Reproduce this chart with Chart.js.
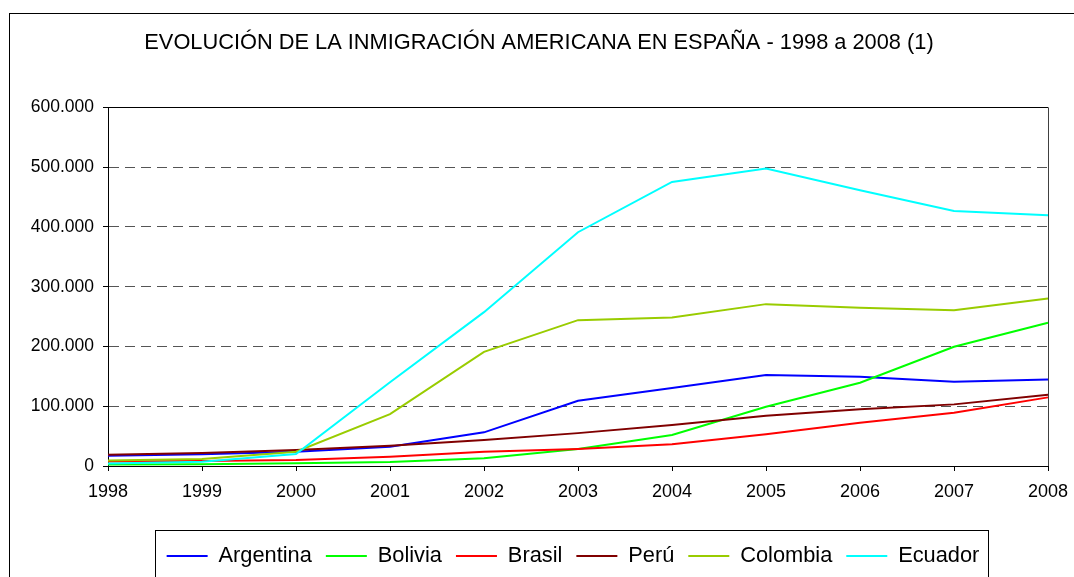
<!DOCTYPE html>
<html>
<head>
<meta charset="utf-8">
<script src="https://cdn.jsdelivr.net/npm/chart.js@4/dist/chart.umd.min.js"></script>
<style>
  html, body { margin: 0; padding: 0; background: #fff; }
  #chart { display: block; }
</style>
</head>
<body>
<canvas id="chart" width="1074" height="577"></canvas>
<script>
const years = ["1998","1999","2000","2001","2002","2003","2004","2005","2006","2007","2008"];

const argentina = [17200, 19500, 24000, 32300, 56300, 109100, 130400, 152100, 149300, 140900, 144900];
const bolivia   = [2500, 3000, 4500, 6700, 12900, 28400, 51800, 99100, 139200, 199400, 239500];
const brasil    = [7500, 8500, 10000, 15600, 23900, 28400, 36200, 53000, 72400, 89100, 114800];
const peru      = [19000, 21700, 26700, 33900, 43500, 55000, 68500, 84100, 94800, 103100, 119200];
const colombia  = [9000, 11700, 23900, 86900, 191000, 244000, 248500, 270800, 264600, 260700, 280300];
const ecuador   = [4000, 7000, 20000, 140000, 257400, 391100, 475200, 497600, 461300, 426700, 419500];

const seriesNames = ["Argentina","Bolivia","Brasil","Perú","Colombia","Ecuador"];
const seriesData = [argentina, bolivia, brasil, peru, colombia, ecuador];
const seriesColors = ["#0000ff","#00ff00","#ff0000","#800000","#99cc00","#00ffff"];

const FONT = "'Liberation Sans', Arial, Helvetica, sans-serif";

const fmtNum = (v) => String(v).replace(/\B(?=(\d{3})+(?!\d))/g, ".");
const px = (v) => Math.round(v - 0.5) + 0.5;

// outer frame, plot frame, legend frame
const frames = {
  id: "frames",
  afterLayout(chart) {
    // legend in the original sits a bit left of the plot centre
    const lg = chart.legend;
    if (lg) { lg.left -= 5; lg.right -= 5; }
  },
  beforeDraw(chart) {
    const c = chart.ctx;
    c.save();
    c.fillStyle = "#fff";
    c.fillRect(0, 0, chart.width, chart.height);
    c.strokeStyle = "#000";
    c.lineWidth = 1;
    c.strokeRect(9.5, 13.5, 1200, 700);
    c.restore();
  },
  beforeDatasetsDraw(chart) {
    const a = chart.chartArea, c = chart.ctx;
    c.save();
    c.lineWidth = 1;
    c.strokeStyle = "#000";
    c.beginPath();
    c.moveTo(a.left, px(a.top));
    c.lineTo(a.right, px(a.top));
    c.stroke();
    c.strokeStyle = "#404040";
    c.beginPath();
    c.moveTo(px(a.right), a.top);
    c.lineTo(px(a.right), a.bottom);
    c.stroke();
    c.restore();
  },
  afterDraw(chart) {
    const lg = chart.legend;
    if (!lg || !lg.legendHitBoxes.length) return;
    const hb = lg.legendHitBoxes;
    const l = Math.min(...hb.map(h => h.left)) - 12;
    const r = Math.max(...hb.map(h => h.left + h.width)) + 8;
    const c = chart.ctx;
    c.save();
    c.strokeStyle = "#000";
    c.lineWidth = 1;
    c.strokeRect(Math.round(l) + 0.5, 530.5, Math.round(r - l), 100);
    c.restore();
  }
};

new Chart(document.getElementById("chart"), {
  type: "line",
  data: {
    labels: years,
    datasets: seriesNames.map((name, i) => ({
      label: name,
      data: seriesData[i],
      borderColor: seriesColors[i],
      backgroundColor: seriesColors[i],
      borderWidth: 2,
      pointRadius: 0,
      tension: 0,
      fill: false,
      order: seriesNames.length - i,
    })),
  },
  options: {
    responsive: false,
    animation: false,
    layout: { padding: { left: 30, right: 26, top: 0, bottom: 0 } },
    plugins: {
      tooltip: { enabled: false },
      title: {
        display: true,
        text: "EVOLUCIÓN DE LA INMIGRACIÓN AMERICANA EN ESPAÑA - 1998 a 2008 (1)",
        color: "#000",
        font: { family: FONT, size: 21.8, weight: "normal" },
        padding: { top: 30, bottom: 51.2 },
      },
      legend: {
        position: "bottom",
        fullSize: false,
        labels: {
          color: "#000",
          font: { family: FONT, size: 21.8 },
          usePointStyle: true,
          pointStyle: "line",
          pointStyleWidth: 41,
          padding: 14,
          sort: (a, b) => a.datasetIndex - b.datasetIndex,
        },
      },
    },
    scales: {
      x: {
        type: "category",
        offset: false,
        afterFit: (s) => { s.height = 65.2; },
        grid: { drawOnChartArea: false, drawTicks: true, tickLength: 5, tickColor: "#000" },
        border: { color: "#000", width: 1 },
        ticks: {
          color: "#000",
          font: { family: FONT, size: 18, lineHeight: 1.9 },
          padding: 4,
          maxRotation: 0,
          autoSkip: false,
        },
      },
      y: {
        min: 0,
        max: 600000,
        afterFit: (s) => { s.width = 78; },
        grid: { color: "#555", lineWidth: 1, drawTicks: true, tickLength: 5, tickColor: "#000", tickBorderDash: [] },
        border: { color: "#000", width: 1, dash: [10, 6] },
        ticks: {
          stepSize: 100000,
          color: "#000",
          font: { family: FONT, size: 17.5 },
          padding: 9,
          callback: (v) => fmtNum(v),
        },
      },
    },
  },
  plugins: [frames],
});
</script>
</body>
</html>
